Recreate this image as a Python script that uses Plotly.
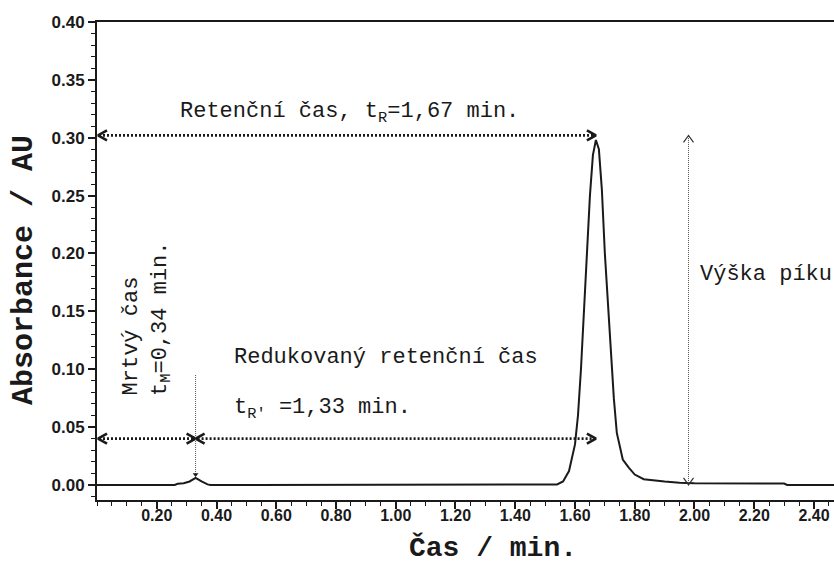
import plotly.graph_objects as go

# ---- data ----
time_min = [0.00, 0.26, 0.27, 0.29, 0.31, 0.33, 0.35, 0.37, 0.38, 1.50, 1.54, 1.56,
            1.58, 1.60, 1.61, 1.62, 1.63, 1.64, 1.65, 1.66, 1.67, 1.68, 1.69, 1.70,
            1.71, 1.72, 1.73, 1.74, 1.76, 1.78, 1.80, 1.83, 1.86, 1.90, 1.95, 2.00,
            2.30, 2.31, 2.47]
absorbance = [0.0, 0.0, 0.001, 0.0015, 0.003, 0.006, 0.003, 0.0005, 0.0, 0.0, 0.0005, 0.003,
              0.012, 0.035, 0.06, 0.10, 0.15, 0.20, 0.25, 0.285, 0.298, 0.29, 0.255, 0.20,
              0.155, 0.11, 0.075, 0.045, 0.022, 0.015, 0.009, 0.005, 0.004, 0.003, 0.002, 0.0015,
              0.0012, 0.0, 0.0]

# annotation marker values
t_M = 0.33          # dead time arrow position
t_R = 1.67          # retention time arrow position
peak_height = 0.302 # level of the retention-time arrow / peak height arrow top
reduced_level = 0.040
height_arrow_x = 1.98
dead_line_top = 0.095
dead_line_bottom = 0.009

x_ticks = [0.2, 0.4, 0.6, 0.8, 1.0, 1.2, 1.4, 1.6, 1.8, 2.0, 2.2, 2.4]
x_range = [0.0, 2.467]
y_range = [-0.013, 0.40]

W, H = 834, 572
ML, MR, MT, MB = 97, 0, 22, 72
PW, PH = W - ML - MR, H - MT - MB
sx = (x_range[1] - x_range[0]) / PW
sy = (y_range[1] - y_range[0]) / PH

MONO = "Liberation Mono, Courier New, monospace"
SANS = "Liberation Sans, Arial, sans-serif"
INK = "#1a1a1a"

fig = go.Figure()
fig.add_trace(go.Scatter(x=time_min, y=absorbance, mode="lines",
                         line=dict(color=INK, width=2), hoverinfo="skip", showlegend=False))


def dotted(x0, y0, x1, y1, width, dash, color=INK):
    fig.add_trace(go.Scatter(x=[x0, x1], y=[y0, y1], mode="lines",
                             line=dict(color=color, width=width, dash=dash),
                             hoverinfo="skip", showlegend=False))


def chevron(xt, yt, direction, L, Hh, width, color=INK):
    if direction == "right":
        xs = [xt - L * sx, xt, xt - L * sx]; ys = [yt + Hh * sy, yt, yt - Hh * sy]
    elif direction == "left":
        xs = [xt + L * sx, xt, xt + L * sx]; ys = [yt + Hh * sy, yt, yt - Hh * sy]
    elif direction == "up":
        xs = [xt - Hh * sx, xt, xt + Hh * sx]; ys = [yt - L * sy, yt, yt - L * sy]
    else:
        xs = [xt - Hh * sx, xt, xt + Hh * sx]; ys = [yt + L * sy, yt, yt + L * sy]
    fig.add_trace(go.Scatter(x=xs, y=ys, mode="lines",
                             line=dict(color=color, width=width),
                             hoverinfo="skip", showlegend=False))


# retention time arrow
dotted(x_range[0] + 2 * sx, peak_height, t_R - 2 * sx, peak_height, 2.6, "2px,2px")
chevron(x_range[0] + 1 * sx, peak_height, "left", 9, 5, 2.6)
chevron(t_R, peak_height, "right", 9, 5, 2.6)

# dead time arrow
dotted(x_range[0] + 2 * sx, reduced_level, t_M - 2 * sx, reduced_level, 2.6, "2px,2px")
chevron(x_range[0] + 1 * sx, reduced_level, "left", 9, 5, 2.6)
chevron(t_M, reduced_level, "right", 9, 5, 2.6)

# reduced retention time arrow
dotted(t_M + 2 * sx, reduced_level, t_R - 2 * sx, reduced_level, 2.6, "2px,2px")
chevron(t_M, reduced_level, "left", 9, 5, 2.6)
chevron(t_R, reduced_level, "right", 9, 5, 2.6)

# dead time vertical marker
dotted(t_M, dead_line_top, t_M, dead_line_bottom, 1, "1px,1px", "#555")
fig.add_trace(go.Scatter(x=[t_M], y=[dead_line_bottom], mode="markers",
                         marker=dict(symbol="triangle-down", size=5, color=INK),
                         hoverinfo="skip", showlegend=False))

# peak height arrow
dotted(height_arrow_x, 0.0, height_arrow_x, peak_height, 1, "1px,1px", "#555")
chevron(height_arrow_x, peak_height, "up", 7, 5, 1.2, "#333")
chevron(height_arrow_x, 0.0, "down", 7, 5, 1.2, "#333")

ann_font = dict(family=MONO, size=22, color=INK)
anns = [
    dict(x=0.270, y=0.321, text="Retenční čas, t<sub>R</sub>=1,67 min.", xanchor="left", yanchor="middle"),
    dict(x=0.452, y=0.110, text="Redukovaný retenční čas", xanchor="left", yanchor="middle"),
    dict(x=0.452, y=0.066, text="t<sub>R'</sub> =1,33 min.", xanchor="left", yanchor="middle"),
    dict(x=2.011, y=0.182, text="Výška píku", xanchor="left", yanchor="middle"),
    dict(x=0.117, y=0.076, text="Mrtvý čas", xanchor="center", yanchor="bottom", textangle=-90),
    dict(x=0.217, y=0.075, text="t<sub>M</sub>=0,34 min.", xanchor="center", yanchor="bottom", textangle=-90),
]
for a in anns:
    fig.add_annotation(xref="x", yref="y", showarrow=False, font=ann_font, **a)

# axis titles
fig.add_annotation(xref="paper", yref="paper", x=(493 - ML) / PW, y=(MT + PH - 548) / PH,
                   text="<b>Čas / min.</b>", showarrow=False, xanchor="center", yanchor="middle",
                   font=dict(family=MONO, size=28, color=INK))
fig.add_annotation(xref="paper", yref="paper", x=(24 - ML) / PW, y=(MT + PH - 270) / PH,
                   text="<b>Absorbance / AU</b>", showarrow=False, textangle=-90,
                   xanchor="center", yanchor="middle",
                   font=dict(family=MONO, size=30, color=INK))

fig.update_layout(
    width=W, height=H,
    margin=dict(l=ML, r=MR, t=MT, b=MB),
    paper_bgcolor="white", plot_bgcolor="white",
    showlegend=False,
    xaxis=dict(range=x_range, showgrid=False, zeroline=False,
               showline=True, linecolor=INK, linewidth=2, mirror=True,
               tickmode="array", tickvals=x_ticks, tickformat=".2f",
               ticks="outside", ticklen=7, tickwidth=1.5, tickcolor=INK,
               ticklabelstandoff=-7,
               tickfont=dict(family=SANS, size=16, color=INK, weight="bold"),
               minor=dict(tickmode="linear", tick0=0, dtick=0.05, ticks="outside",
                          ticklen=4, tickwidth=1.2, tickcolor=INK, showgrid=False)),
    yaxis=dict(range=y_range, showgrid=False, zeroline=False,
               showline=True, linecolor=INK, linewidth=2, mirror=False,
               tickmode="linear", tick0=0, dtick=0.05, tickformat=".2f",
               ticks="outside", ticklen=7, tickwidth=1.5, tickcolor=INK,
               tickfont=dict(family=SANS, size=17, color=INK, weight="bold"),
               minor=dict(tickmode="linear", tick0=0, dtick=0.01, ticks="outside",
                          ticklen=4, tickwidth=1.2, tickcolor=INK, showgrid=False)),
)

fig.write_html("out.html")
